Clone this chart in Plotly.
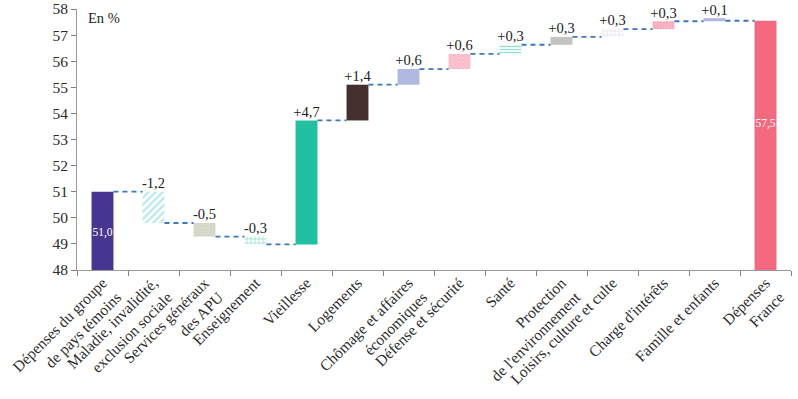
import plotly.graph_objects as go

categories = [
    "Dépenses du groupe<br>de pays témoins",
    "Maladie, invalidité,<br>exclusion sociale",
    "Services généraux<br>des APU",
    "Enseignement",
    "Vieillesse",
    "Logements",
    "Chômage et affaires<br>économiques",
    "Défense et sécurité",
    "Santé",
    "Protection<br>de l'environnement",
    "Loisirs, culture et culte",
    "Charge d'intérêts",
    "Famille et enfants",
    "Dépenses<br>France",
]
start_value = 51.0
deltas = [-1.2, -0.52, -0.3, 4.75, 1.37, 0.6, 0.58, 0.35, 0.3, 0.3, 0.3, 0.12]
total_value = 57.55
value_labels = ["51,0", "-1,2", "-0,5", "-0,3", "+4,7", "+1,4", "+0,6", "+0,6",
                "+0,3", "+0,3", "+0,3", "+0,3", "+0,1", "57,5"]
y_ticks = list(range(48, 59))

colors = ["#483590", "#ffffff", "#d4d5c7", "#ffffff", "#22bfa0", "#43302f",
          "#b1b9e2", "#f9b3c3", "#ffffff", "#c5c3c0", "#ffffff", "#f7a6b9",
          "#b1b9e2", "#f3697f"]
patterns = [
    dict(shape=""),
    dict(shape="/", fgcolor="#74d3d3", bgcolor="#ffffff", size=5, solidity=0.45),
    dict(shape=".", fgcolor="#c6c8b6", bgcolor="#d9dacd", size=3, solidity=0.3),
    dict(shape="+", fgcolor="#2bbf9f", bgcolor="#ffffff", size=4, solidity=0.35),
    dict(shape=""),
    dict(shape=""),
    dict(shape=""),
    dict(shape="x", fgcolor="#f596ad", bgcolor="#fbc6d2", size=3, solidity=0.4),
    dict(shape="-", fgcolor="#2bbf9f", bgcolor="#ffffff", size=3, solidity=0.45),
    dict(shape=""),
    dict(shape="+", fgcolor="#c9c6ee", bgcolor="#ffffff", size=4, solidity=0.35),
    dict(shape=".", fgcolor="#f48ea7", bgcolor="#f9b6c6", size=3, solidity=0.3),
    dict(shape=""),
    dict(shape=""),
]

FONT = "Liberation Serif"
axis_min = y_ticks[0]
n = len(categories)
xs = list(range(n))

# Compute bar bases/heights
bases, heights, starts = [], [], []
bases.append(axis_min)
heights.append(start_value - axis_min)
starts.append(start_value)
cum = start_value
for d in deltas:
    starts.append(cum)
    new = cum + d
    bases.append(min(cum, new))
    heights.append(abs(d))
    cum = new
bases.append(axis_min)
heights.append(total_value - axis_min)
starts.append(total_value)
tops = [b + h for b, h in zip(bases, heights)]

W = 0.43
fig = go.Figure()
for i in range(n):
    fig.add_trace(go.Bar(
        x=[xs[i]], y=[heights[i]], base=[bases[i]], width=W,
        marker=dict(color=colors[i], line=dict(width=0), pattern=patterns[i]),
        showlegend=False, hoverinfo="skip",
    ))

# connectors
for i in range(n - 1):
    lvl = starts[i + 1]
    fig.add_trace(go.Scatter(
        x=[xs[i] + W / 2, xs[i + 1] - W / 2], y=[lvl, lvl], mode="lines",
        line=dict(color="#3a76c2", width=1.8, dash="5px,4px"),
        showlegend=False, hoverinfo="skip",
    ))

# labels above bars
lab_x = [xs[i] for i in range(1, n - 1)]
lab_y = [tops[i] for i in range(1, n - 1)]
fig.add_trace(go.Scatter(
    x=lab_x, y=lab_y, mode="text", text=value_labels[1:-1],
    textposition="top center", cliponaxis=False,
    textfont=dict(family=FONT, size=14.5, color="#222222"),
    showlegend=False, hoverinfo="skip",
))
# labels inside first and last bars
fig.add_trace(go.Scatter(
    x=[xs[0], xs[-1]],
    y=[(bases[0] + tops[0]) / 2 - 0.1, (bases[-1] + tops[-1]) / 2 + 0.8],
    mode="text", text=[value_labels[0], value_labels[-1]],
    textposition="middle center",
    textfont=dict(family=FONT, size=11.5, color="#ffffff"),
    showlegend=False, hoverinfo="skip",
))
# invisible trace on xaxis2 for boundary ticks
fig.add_trace(go.Scatter(x=[-0.5], y=[axis_min], xaxis="x2", mode="markers",
                         marker=dict(opacity=0), showlegend=False, hoverinfo="skip"))

fig.update_layout(
    width=798, height=399,
    margin=dict(l=77, r=7, t=9, b=129, autoexpand=False),
    paper_bgcolor="white", plot_bgcolor="white",
    barmode="overlay",
    font=dict(family=FONT, size=14, color="#333333"),
    xaxis=dict(
        range=[-0.5, n - 0.5], tickmode="array", tickvals=xs, ticktext=categories,
        tickangle=-45, showgrid=False, zeroline=False, showline=False,
        ticks="", automargin=False,
        tickfont=dict(family=FONT, size=15.5, color="#2a2a2a"),
    ),
    xaxis2=dict(
        range=[-0.5, n - 0.5], overlaying="x", side="bottom",
        tickmode="array", tickvals=[i - 0.5 for i in range(n + 1)],
        showticklabels=False, ticks="outside", ticklen=5, tickcolor="#808080",
        showline=True, linecolor="#9a9a9a", linewidth=1,
        showgrid=False, zeroline=False,
    ),
    yaxis=dict(
        range=[axis_min, y_ticks[-1]], tickmode="array", tickvals=y_ticks,
        showgrid=False, zeroline=False, showline=True, linecolor="#9a9a9a",
        ticks="outside", ticklen=5, tickcolor="#808080", automargin=False,
        ticklabeloverflow="allow",
        tickfont=dict(family=FONT, size=15.5, color="#2a2a2a"),
    ),
    annotations=[dict(
        text="En %", xref="paper", yref="paper", x=0.012, y=1.005,
        xanchor="left", yanchor="top", showarrow=False,
        font=dict(family=FONT, size=14.5, color="#222222"),
    )],
)

fig.write_html(
    "out.html",
    config={"displayModeBar": False},
    post_script="document.body.style.margin='0';document.body.style.padding='0';",
)
